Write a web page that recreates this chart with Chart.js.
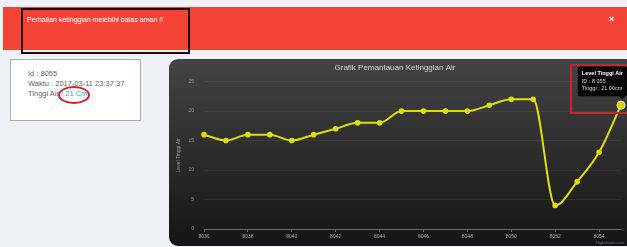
<!DOCTYPE html>
<html>
<head>
<meta charset="utf-8">
<script src="https://cdn.jsdelivr.net/npm/chart.js@4"></script>
<style>
  html, body { margin: 0; padding: 0; }
  body { width: 627px; height: 247px; background: #eef1f6; position: relative; overflow: hidden;
         font-family: "Liberation Sans", Arial, sans-serif; }
  #banner { position: absolute; left: 3px; top: 7px; width: 624px; height: 43px; background: #f34336; }
  #banner .msg { position: absolute; left: 24px; top: 9px; color: #fff; font-size: 7px; }
  #banner .close { position: absolute; left: 606px; top: 7px; color: #fff; font-size: 9px; font-weight: bold; }
  #mark1 { position: absolute; left: 21px; top: 8px; width: 165px; height: 42px; border: 2px solid #1c0a0a; }
  #info { position: absolute; left: 10px; top: 59px; width: 129px; height: 60px; background: #fff;
          border: 1px solid #a9adb3; color: #5f5f5f; font-size: 7.5px; line-height: 10px; }
  #info .t { position: absolute; left: 17px; top: 9px; }
  #info .v { color: #2aa5c8; }
  #ring { position: absolute; left: 58px; top: 86px; width: 28px; height: 14px; border: 2px solid #d0202a;
          border-radius: 50%; }
  #panel { position: absolute; left: 169px; top: 59px; width: 470px; height: 187px; border-radius: 9px;
           background: linear-gradient(#444444, #151515); }
  #wrap { position: absolute; left: 169px; top: 59px; width: 458px; height: 187px; }
  #mark2 { position: absolute; left: 570px; top: 64px; width: 60px; height: 46px; border: 2px solid #d11f2b; }
  #credit { position: absolute; left: 596px; top: 240px; color: #777; font-size: 4px; }
</style>
</head>
<body>
<div id="banner"><div class="msg">Perhatian ketinggian melebihi batas aman !!</div><div class="close">×</div></div>
<div id="mark1"></div>
<div id="info"><div class="t">Id : 8055<br>Waktu : 2017-03-11 23:37:37<br>Tinggi Air : <span class="v">21 Cm</span></div></div>
<div id="ring"></div>
<div id="panel"></div>
<div id="wrap"><canvas id="chart1"></canvas></div>
<div id="mark2"></div>
<div id="credit">Highcharts.com</div>
<script>
// data
const ids = ["8036", "8037", "8038", "8039", "8040", "8041", "8042", "8043", "8044", "8045",
             "8046", "8047", "8048", "8049", "8050", "8051", "8052", "8053", "8054", "8055"];
const tinggi = [16, 15, 16, 16, 15, 16, 17, 18, 18, 20, 20, 20, 20, 21, 22, 22, 4, 8, 13, 21];
const yTicks = [0, 5, 10, 15, 20, 25];

const canvas1 = document.getElementById("chart1");
const ctx = canvas1.getContext("2d");

Chart.Tooltip.positioners.atPoint = function(items) {
  if (!items.length) return false;
  return { x: items[0].element.x + 3, y: items[0].element.y - 4 };
};

var lineChart = new Chart(ctx, {
  type: "line",
  data: {
    labels: ids,
    datasets: [{
      label: "Level Tinggi Air",
      data: tinggi,
      borderColor: "#DDDF0D",
      backgroundColor: "#DDDF0D",
      borderWidth: 2,
      pointRadius: 1.8,
      pointHoverRadius: 4,
      pointHoverBorderColor: "#f4f5a0",
      pointHoverBorderWidth: 1,
      cubicInterpolationMode: "monotone",
      fill: false
    }]
  },
  options: {
    responsive: true,
    maintainAspectRatio: false,
    animation: false,
    events: [],
    layout: { padding: { right: 6 } },
    plugins: {
      legend: { display: false },
      title: {
        display: true,
        text: "Grafik Pemantauan Ketinggian Air",
        color: "#d8d8d8",
        font: { family: "Liberation Sans", size: 8, weight: "normal" },
        padding: { top: 4, bottom: 9 }
      },
      tooltip: {
        position: "atPoint",
        xAlign: "right",
        yAlign: "bottom",
        backgroundColor: "rgba(0,0,0,0.9)",
        titleColor: "#fff",
        bodyColor: "#ddd",
        titleFont: { family: "Liberation Sans", size: 5.5, weight: "bold" },
        bodyFont: { family: "Liberation Sans", size: 5.5 },
        titleMarginBottom: 1,
        bodySpacing: 1,
        padding: 4,
        caretSize: 3,
        cornerRadius: 2,
        displayColors: false,
        callbacks: {
          title: () => "Level Tinggi Air",
          label: (item) => ["ID : " + item.label.replace(/(\d)(\d{3})$/, "$1 $2"),
                            "Tinggi : " + item.raw.toFixed(2) + "cm"]
        }
      }
    },
    scales: {
      x: {
        offset: false,
        afterFit: (s) => { s.height = 17; },
        border: { color: "#6a6a6a", width: 1 },
        grid: {
          drawOnChartArea: false,
          tickLength: 3,
          color: (c) => (c.index % 2 === 0 ? "#6a6a6a" : "rgba(0,0,0,0)")
        },
        ticks: {
          autoSkip: false,
          maxRotation: 0,
          padding: 2,
          color: "#aaa",
          font: { family: "Liberation Sans", size: 5 },
          callback: function(v, i) { return i % 2 === 0 ? this.getLabelForValue(v) : ""; }
        }
      },
      y: {
        min: 0,
        max: 25,
        afterFit: (s) => { s.width = 35; },
        afterBuildTicks: (s) => { s.ticks = yTicks.map((v) => ({ value: v })); },
        border: { display: false },
        grid: { color: "rgba(255,255,255,0.06)", tickLength: 0 },
        title: {
          display: true,
          text: "Level Tinggi Air",
          color: "#999",
          font: { family: "Liberation Sans", size: 5 },
          padding: { top: 7, bottom: 0 }
        },
        ticks: {
          padding: 10,
          color: "#999",
          font: { family: "Liberation Sans", size: 5 }
        }
      }
    }
  }
});

const last = tinggi.length - 1;
const pt = lineChart.getDatasetMeta(0).data[last];
lineChart.setActiveElements([{ datasetIndex: 0, index: last }]);
lineChart.tooltip.setActiveElements([{ datasetIndex: 0, index: last }], { x: pt.x, y: pt.y });
lineChart.update("none");
</script>
</body>
</html>
